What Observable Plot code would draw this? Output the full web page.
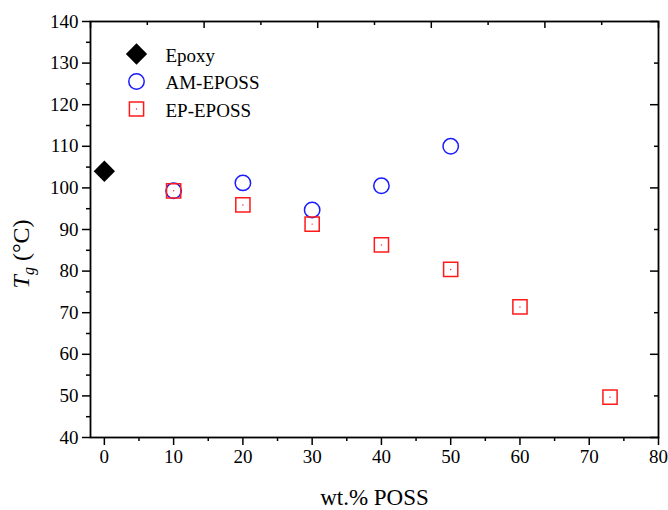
<!DOCTYPE html>
<html><head><meta charset="utf-8">
<script src="https://cdn.jsdelivr.net/npm/d3@7"></script>
<script src="https://cdn.jsdelivr.net/npm/@observablehq/plot@0.6"></script>
<style>body{margin:0;background:#fff}</style>
</head><body><div id="chart"></div>
<script>
// ---- data ----
const epoxyX = [0];
const epoxyY = [104];
const amX = [10, 20, 30, 40, 50];
const amY = [99.3, 101.2, 94.7, 100.5, 110];
const epX = [10, 20, 30, 40, 50, 60, 73];
const epY = [99.3, 95.9, 91.3, 86.3, 80.4, 71.4, 49.7];
const xTicks = [0, 10, 20, 30, 40, 50, 60, 70, 80];
const xMinorTicks = [5, 15, 25, 35, 45, 55, 65, 75];
const yTicks = [40, 50, 60, 70, 80, 90, 100, 110, 120, 130, 140];
const yMinorTicks = [45, 55, 65, 75, 85, 95, 105, 115, 125, 135];
const rightMajor = [40, 60, 80, 100, 120, 140];
const rightMinor = [50, 70, 90, 110, 130];
const legendNames = ["Epoxy", "AM-EPOSS", "EP-EPOSS"];
const xDomain = [-2, 80];
const yDomain = [40, 140];

const epoxy = epoxyX.map((x, i) => ({x, y: epoxyY[i]}));
const am = amX.map((x, i) => ({x, y: amY[i]}));
const ep = epX.map((x, i) => ({x, y: epY[i]}));

const W = 668, H = 510, mL = 90, mR = 10, mT = 21, mB = 73;
const innerW = W - mL - mR, innerH = H - mT - mB;
const topAll = d3.range(11).map(i => xDomain[0] + i * (xDomain[1] - xDomain[0]) / 10);
const topMajor = topAll.filter((d, i) => i % 2 === 0);
const topMinor = topAll.filter((d, i) => i % 2 === 1);

const BLUE = "#1a1aff", RED = "#ff1a1a";
const font = "Liberation Serif, Times New Roman, serif";

const legendStyles = [
  {symbol: "diamond2", r: 9.6, fill: "black", stroke: "none"},
  {symbol: "circle", r: 7.7, fill: "none", stroke: BLUE},
  {symbol: "square", r: 8.0, fill: "none", stroke: RED}
];
const legendMarks = legendNames.flatMap((name, i) => {
  const s = legendStyles[i];
  const dy = 32.5 + i * 27.5;
  const m = [
    Plot.dot([name], {frameAnchor: "top-left", dx: 46, dy, symbol: () => s.symbol, r: s.r,
      fill: s.fill, stroke: s.stroke, strokeWidth: 1.5}),
    Plot.text([name], {frameAnchor: "top-left", dx: 75, dy: dy + 1.5, text: d => d,
      textAnchor: "start", lineAnchor: "middle", fontSize: 19, fill: "black"})
  ];
  if (i === 2) m.push(Plot.dot([name], {frameAnchor: "top-left", dx: 46, dy, r: 0.7, fill: RED, stroke: "none"}));
  return m;
});

const chart = Plot.plot({
  width: W, height: H,
  marginLeft: mL, marginRight: mR, marginTop: mT, marginBottom: mB,
  style: {fontFamily: font, fontSize: "19px", color: "black", background: "white"},
  x: {domain: xDomain},
  y: {domain: yDomain},
  marks: [
    Plot.axisX({ticks: xTicks, tickSize: 8, tickPadding: 4, tickFormat: d => d, label: null, strokeWidth: 1.5, fontSize: 19}),
    Plot.axisX({ticks: xMinorTicks, tickSize: 4, text: null, label: null, strokeWidth: 1.5}),
    Plot.axisY({ticks: yTicks, tickSize: 8, tickPadding: 4, tickFormat: d => d, label: null, strokeWidth: 1.5, fontSize: 19}),
    Plot.axisY({ticks: yMinorTicks, tickSize: 4, text: null, label: null, strokeWidth: 1.5}),
    Plot.tickX(topMajor, {x: d => d, insetBottom: innerH - 7, stroke: "black", strokeWidth: 1.5}),
    Plot.tickX(topMinor, {x: d => d, insetBottom: innerH - 4, stroke: "black", strokeWidth: 1.5}),
    Plot.tickY(rightMajor, {y: d => d, insetLeft: innerW - 8, stroke: "black", strokeWidth: 1.5}),
    Plot.tickY(rightMinor, {y: d => d, insetLeft: innerW - 4, stroke: "black", strokeWidth: 1.5}),
    Plot.frame({stroke: "black", strokeWidth: 1.8}),
    Plot.dot(am, {x: "x", y: "y", r: 7.7, stroke: BLUE, strokeWidth: 1.5, fill: "none"}),
    Plot.dot(ep, {x: "x", y: "y", symbol: "square", r: 8.0, stroke: RED, strokeWidth: 1.5, fill: "none"}),
    Plot.dot(ep, {x: "x", y: "y", r: 0.7, fill: RED, stroke: "none"}),
    Plot.dot(epoxy, {x: "x", y: "y", symbol: "diamond2", r: 9.6, fill: "black", stroke: "none"}),
    Plot.text(["wt.% POSS"], {frameAnchor: "bottom", dy: 60, lineAnchor: "middle", text: d => d, fontSize: 23, fill: "black"}),
    ...legendMarks
  ]
});

document.getElementById("chart").appendChild(chart);

// y-axis title with italic T and subscript g
const svg = d3.select(chart);
const t = svg.append("text")
  .attr("transform", "translate(29,254) rotate(-90)")
  .attr("text-anchor", "middle")
  .attr("font-family", font)
  .attr("font-size", 24)
  .attr("fill", "black");
t.append("tspan").attr("font-style", "italic").text("T");
t.append("tspan").attr("font-style", "italic").attr("font-size", 16).attr("dy", 5).text("g");
t.append("tspan").attr("dy", -5).text(" (°C)");
</script>
</body></html>
